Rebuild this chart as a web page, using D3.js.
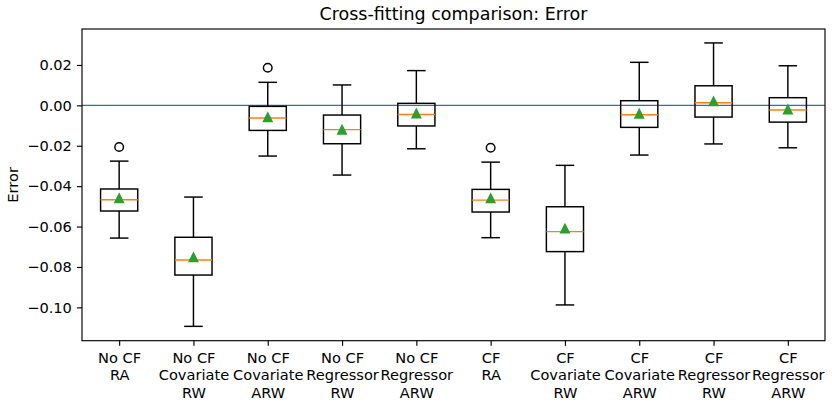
<!DOCTYPE html>
<html><head><meta charset="utf-8">
<script src="https://cdn.jsdelivr.net/npm/d3@7"></script>
<style>body{margin:0;background:#fff} text{font-family:"DejaVu Sans",sans-serif;fill:#000}</style>
</head><body><svg id="c" width="832" height="402"></svg>
<script>
const categories = [["No CF","RA"],["No CF","Covariate","RW"],["No CF","Covariate","ARW"],["No CF","Regressor","RW"],["No CF","Regressor","ARW"],["CF","RA"],["CF","Covariate","RW"],["CF","Covariate","ARW"],["CF","Regressor","RW"],["CF","Regressor","ARW"]];
const whiskerLow  = [-0.0657,-0.1094,-0.0251,-0.0345,-0.0215,-0.0655,-0.0988,-0.0246,-0.0191,-0.0210];
const q1          = [-0.0523,-0.0840,-0.0124,-0.0190,-0.0102,-0.0528,-0.0724,-0.0109,-0.0058,-0.0083];
const medians     = [-0.0467,-0.0766,-0.0063,-0.0120,-0.0045,-0.0469,-0.0625,-0.0046, 0.0013,-0.0023];
const q3          = [-0.0414,-0.0653,-0.0005,-0.0048, 0.0010,-0.0416,-0.0502, 0.0023, 0.0097, 0.0038];
const whiskerHigh = [-0.0276,-0.0454, 0.0114, 0.0101, 0.0172,-0.0281,-0.0297, 0.0213, 0.0309, 0.0196];
const means       = [-0.0460,-0.0752,-0.0059,-0.0120,-0.0040,-0.0460,-0.0610,-0.0041, 0.0020,-0.0020];
const outliers    = [[-0.0206],[],[0.0186],[],[],[-0.0210],[],[],[],[]];
const yTicks = [-0.10,-0.08,-0.06,-0.04,-0.02,0.00,0.02];
const refLine = 0;

const svg = d3.select("#c");
const L=82, R=825, T=29, B=340.7;
const x = d3.scaleLinear().domain([0.5,10.5]).range([L,R]);
const y = d3.scaleLinear().domain([-0.1165,0.0378]).range([B,T]);
const fs = 14.6, lw = 1.45;

// y axis
const ya = svg.append("g").attr("transform",`translate(${L},0)`)
  .call(d3.axisLeft(y).tickValues(yTicks).tickFormat(d3.format(".2f")).tickSize(5.1).tickPadding(5));
ya.select(".domain").remove();
ya.selectAll("line").attr("stroke","#000").attr("stroke-width",1.15);
ya.selectAll("text").attr("font-size",fs).attr("font-family","DejaVu Sans").attr("fill","#000");

// x axis
const xa = svg.append("g").attr("transform",`translate(0,${B})`)
  .call(d3.axisBottom(x).tickValues(d3.range(1,11)).tickFormat(()=>"").tickSize(5.1));
xa.select(".domain").remove();
xa.selectAll("line").attr("stroke","#000").attr("stroke-width",1.15);
xa.selectAll(".tick").each(function(d,i){
  const t = d3.select(this).append("text").attr("text-anchor","middle").attr("font-size",fs)
    .attr("font-family","DejaVu Sans").attr("fill","#000");
  categories[i].forEach((s,j)=>t.append("tspan").attr("x",0).attr("y",22+j*17.5).text(s));
});

// reference line
svg.append("line").attr("x1",L).attr("x2",R).attr("y1",y(refLine)).attr("y2",y(refLine))
  .attr("stroke","#1f77b4").attr("stroke-width",lw);

const g = svg.append("g");
const bw = x(1.25)-x(1), cw = x(1.125)-x(1);
categories.forEach((c,i)=>{
  const cx = x(i+1);
  const gg = g.append("g").attr("stroke","#000").attr("stroke-width",lw).attr("fill","none");
  gg.append("line").attr("x1",cx).attr("x2",cx).attr("y1",y(q3[i])).attr("y2",y(whiskerHigh[i]));
  gg.append("line").attr("x1",cx).attr("x2",cx).attr("y1",y(q1[i])).attr("y2",y(whiskerLow[i]));
  gg.append("line").attr("x1",cx-cw).attr("x2",cx+cw).attr("y1",y(whiskerHigh[i])).attr("y2",y(whiskerHigh[i]));
  gg.append("line").attr("x1",cx-cw).attr("x2",cx+cw).attr("y1",y(whiskerLow[i])).attr("y2",y(whiskerLow[i]));
  gg.append("rect").attr("x",cx-bw).attr("width",2*bw).attr("y",y(q3[i])).attr("height",y(q1[i])-y(q3[i]));
  g.append("line").attr("x1",cx-bw).attr("x2",cx+bw).attr("y1",y(medians[i])).attr("y2",y(medians[i]))
    .attr("stroke","#ff7f0e").attr("stroke-width",lw);
  outliers[i].forEach(v=>{
    g.append("circle").attr("cx",cx).attr("cy",y(v)).attr("r",4.3).attr("fill","none").attr("stroke","#000").attr("stroke-width",lw);
  });
  const my = y(means[i]), h=4.3;
  g.append("path").attr("d",`M${cx},${my-h}L${cx-h},${my+h}L${cx+h},${my+h}Z`)
    .attr("fill","#2ca02c").attr("stroke","#2ca02c").attr("stroke-width",lw);
});

// frame
svg.append("rect").attr("x",L).attr("y",T).attr("width",R-L).attr("height",B-T)
  .attr("fill","none").attr("stroke","#000").attr("stroke-width",1.15);

// title and y label
svg.append("text").attr("x",(L+R)/2).attr("y",20).attr("text-anchor","middle").attr("font-size",17.5).text("Cross-fitting comparison: Error");
svg.append("text").attr("transform",`translate(18,${(T+B)/2}) rotate(-90)`).attr("text-anchor","middle").attr("font-size",fs).text("Error");
</script></body></html>
